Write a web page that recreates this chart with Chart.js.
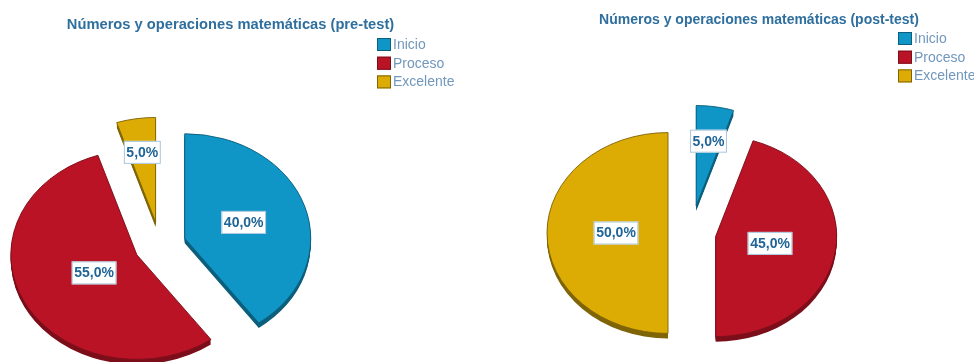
<!DOCTYPE html>
<html>
<head>
<meta charset="utf-8">
<title>Números y operaciones matemáticas</title>
<script src="https://cdn.jsdelivr.net/npm/chart.js@4"></script>
<style>
  html, body { margin: 0; padding: 0; background: #fff; }
  #wrap { position: relative; width: 974px; height: 362px; overflow: hidden; }
  .panel { position: absolute; top: 0; width: 487px; height: 362px; }
  #panelPre { left: 0; }
  #panelPost { left: 487px; }
</style>
</head>
<body>
<div id="wrap">
  <div class="panel" id="panelPre"><canvas id="preChart"></canvas></div>
  <div class="panel" id="panelPost"><canvas id="postChart"></canvas></div>
</div>
<script>
const categories = ['Inicio', 'Proceso', 'Excelente'];
const preTest = [40, 55, 5];
const postTest = [5, 45, 50];
const preTitle = 'Números y operaciones matemáticas (pre-test)';
const postTitle = 'Números y operaciones matemáticas (post-test)';

const fillColors = ['#0f95c6', '#b91325', '#dcab04'];
const edgeColors = ['#0c5f7c', '#7c0f1b', '#7f6508'];

// vertical squash of the pie, gives the tilted look
const TILT = 0.83;
const DEPTH = 5;

function pieCenter(chart){
  const area = chart.chartArea;
  return { x: (area.left + area.right) / 2, y: (area.top + area.bottom) / 2 };
}

function squash(ctx, chart){
  const c = pieCenter(chart);
  ctx.translate(c.x, c.y);
  ctx.scale(1, TILT);
  ctx.translate(-c.x, -c.y);
}

// pull each slice away from the centre along its middle angle
const explodePie = {
  id: 'explodePie',
  afterDatasetsUpdate(chart){
    const dist = chart.options.plugins.pieText.explode;
    const c = pieCenter(chart);
    chart.getDatasetMeta(0).data.forEach((arc, i) => {
      const mid = (arc.startAngle + arc.endAngle) / 2;
      arc.x = c.x + Math.cos(mid) * dist[i];
      arc.y = c.y + Math.sin(mid) * dist[i];
    });
  }
};

// dark copies of each slice under the real one, then tilt for the real draw
const tiltedPie = {
  id: 'tiltedPie',
  beforeDatasetsDraw(chart){
    const ctx = chart.ctx;
    chart.getDatasetMeta(0).data.forEach((arc, i) => {
      const saved = arc.options;
      arc.options = Object.assign({}, saved, {
        offset: saved.offset,
        borderWidth: 0,
        backgroundColor: edgeColors[i],
        borderColor: edgeColors[i]
      });
      for(let d = DEPTH; d > 0; d--){
        ctx.save();
        ctx.translate(0, d);
        squash(ctx, chart);
        arc.draw(ctx);
        ctx.restore();
      }
      arc.options = saved;
    });
    ctx.save();
    squash(ctx, chart);
  },
  afterDatasetsDraw(chart){
    chart.ctx.restore();
  }
};

// title, legend and the boxed percentage on each slice
const pieText = {
  id: 'pieText',
  afterDraw(chart){
    const ctx = chart.ctx;
    const o = chart.options.plugins.pieText;
    const c = pieCenter(chart);
    ctx.save();

    ctx.font = 'bold ' + o.titleSize + 'px "Liberation Sans"';
    ctx.fillStyle = '#2f6f9e';
    ctx.textAlign = 'center';
    ctx.textBaseline = 'middle';
    ctx.fillText(o.title, o.titleX, o.titleY);

    ctx.textAlign = 'left';
    ctx.font = '14px "Liberation Sans"';
    categories.forEach((name, i) => {
      const y = o.legendY + i * 18.7;
      ctx.fillStyle = fillColors[i];
      ctx.strokeStyle = edgeColors[i];
      ctx.lineWidth = 1;
      ctx.fillRect(o.legendX, y, 14, 13);
      ctx.strokeRect(o.legendX + 0.5, y + 0.5, 13, 12);
      ctx.fillStyle = '#7197bd';
      ctx.fillText(name, o.legendX + 16, y + 7);
    });

    ctx.font = 'bold 14px "Liberation Sans"';
    ctx.textAlign = 'center';
    const values = chart.data.datasets[0].data;
    chart.getDatasetMeta(0).data.forEach((arc, i) => {
      const mid = (arc.startAngle + arc.endAngle) / 2;
      const x = c.x + Math.cos(mid) * o.labelDist[i];
      const y = c.y + Math.sin(mid) * o.labelDist[i] * TILT;
      const text = values[i].toFixed(1).replace('.', ',') + '%';
      const w = ctx.measureText(text).width + 5;
      ctx.fillStyle = '#fff';
      ctx.fillRect(x - w / 2, y - 11.5, w, 23);
      ctx.strokeStyle = '#a9c6dc';
      ctx.strokeRect(x - w / 2 + 0.5, y - 11, w - 1, 22);
      ctx.fillStyle = '#1f6496';
      ctx.fillText(text, x, y + 0.5);
    });
    ctx.restore();
  }
};

function makePie(id, values, radius, padding, text){
  return new Chart(document.getElementById(id), {
    type: 'pie',
    data: {
      labels: categories,
      datasets: [{
        data: values,
        backgroundColor: fillColors,
        borderColor: edgeColors,
        borderWidth: 1,
        clip: false
      }]
    },
    options: {
      responsive: true,
      maintainAspectRatio: false,
      animation: false,
      radius: radius,
      layout: { padding: padding },
      plugins: {
        legend: { display: false },
        tooltip: { enabled: false },
        pieText: text
      }
    },
    plugins: [explodePie, tiltedPie, pieText]
  });
}

makePie('preChart', preTest, 126,
  { left: 0, right: 167, top: 128, bottom: 0 },
  { title: preTitle, titleSize: 14.7, titleX: 230.5, titleY: 25, legendX: 377, legendY: 38,
    explode: [26, 26, 28], labelDist: [88, 74, 113] });

makePie('postChart', postTest, 121,
  { left: 0, right: 79, top: 104, bottom: 0 },
  { title: postTitle, titleSize: 14, titleX: 272, titleY: 20, legendX: 411, legendY: 32,
    explode: [33, 25, 23], labelDist: [112, 80, 75] });
</script>
</body>
</html>
